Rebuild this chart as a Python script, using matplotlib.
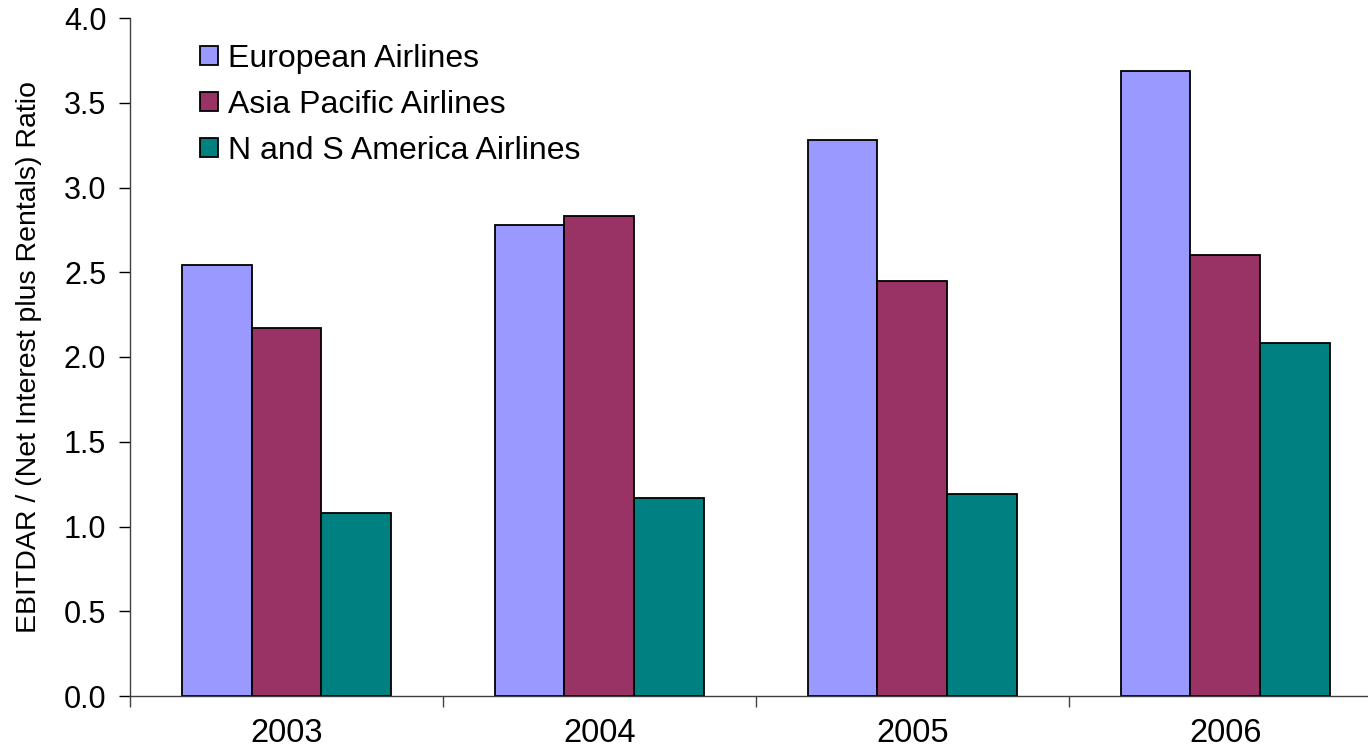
import matplotlib.pyplot as plt
import numpy as np

years = ["2003", "2004", "2005", "2006"]
european = [2.54, 2.78, 3.28, 3.69]
asia_pacific = [2.17, 2.83, 2.45, 2.60]
americas = [1.08, 1.17, 1.19, 2.08]

series = [
    ("European Airlines", european, "#9999FF"),
    ("Asia Pacific Airlines", asia_pacific, "#993366"),
    ("N and S America Airlines", americas, "#008080"),
]

plt.rcParams["font.family"] = ["Liberation Sans", "DejaVu Sans"]

fig = plt.figure(figsize=(13.68, 7.5), dpi=100)
ax = fig.add_axes([0.095, 0.072, 0.915, 0.904])

x = np.arange(len(years))
width = 0.223
for i, (name, vals, color) in enumerate(series):
    ax.bar(x + (i - 1) * width, vals, width, color=color, edgecolor="black",
           linewidth=1.3, label=name)

ax.set_xlim(-0.5, len(years) - 0.5)
ax.set_ylim(0, 4.0)
ax.set_yticks(np.arange(0, 4.01, 0.5))
ax.set_yticklabels([f"{v:.1f}" for v in np.arange(0, 4.01, 0.5)])
ax.set_xticks(x)
ax.set_xticklabels(years)
ax.set_xticks(np.arange(-0.5, len(years) - 0.5, 1.0), minor=True)
ax.tick_params(axis="x", which="major", length=0, pad=16, labelsize=23.5)
ax.tick_params(axis="x", which="minor", length=8, width=1, color="#404040")
ax.tick_params(axis="y", length=8, width=1, labelsize=22, pad=9)

for side in ("top", "right"):
    ax.spines[side].set_visible(False)
for side in ("left", "bottom"):
    ax.spines[side].set_linewidth(1.0)
    ax.spines[side].set_color("#404040")

ax.set_ylabel("EBITDAR / (Net Interest plus Rentals) Ratio", fontsize=20.5, labelpad=16)

ax.legend(loc="upper left", bbox_to_anchor=(0.041, 0.99), frameon=False,
          fontsize=23, handlelength=0.55, handleheight=0.55, handletextpad=0.3,
          labelspacing=0.5, borderaxespad=0.2)

fig.savefig("out.png", dpi=100)
